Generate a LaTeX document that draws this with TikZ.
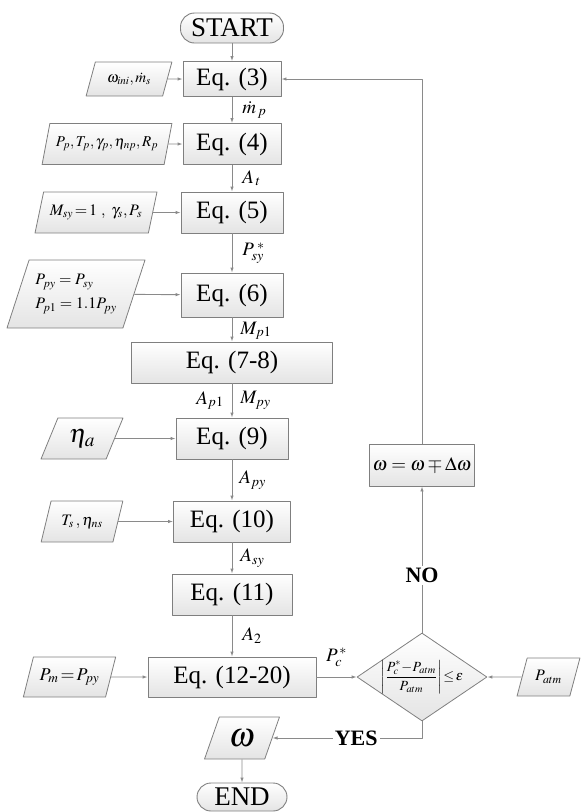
\documentclass[tikz,border=0pt]{standalone}
\usepackage{amsmath}
\usepackage{mathptmx}
\usepackage{fontspec}
\setmainfont{Liberation Serif}
\usetikzlibrary{arrows.meta,shapes.geometric}
\definecolor{linec}{HTML}{7F7F7F}
\definecolor{arrc}{HTML}{8A8A8A}
\definecolor{fillc}{HTML}{E4E4E4}
\tikzset{
  every picture/.style={line join=round, >={Latex[length=5pt,width=3.5pt]}},
  eqbox/.style={draw=linec, line width=0.9pt, top color=white, bottom color=fillc, inner sep=0pt, font=\fontsize{25}{28}\selectfont},
  termbox/.style={eqbox, rounded corners=14pt, font=\fontsize{27}{30}\selectfont},
  inbox/.style={trapezium, trapezium left angle=64, trapezium right angle=116, trapezium stretches=true,
    draw=linec, line width=0.8pt, top color=white, bottom color=fillc, inner sep=0pt, font=\fontsize{16}{24}\selectfont},
  testbox/.style={diamond, draw=linec, line width=0.8pt, top color=white, bottom color=fillc, inner sep=0pt},
  flow/.style={->, draw=arrc, line width=0.9pt},
  lab/.style={font=\fontsize{19}{22}\selectfont, inner sep=1pt},
  word/.style={font=\fontsize{22}{24}\selectfont\bfseries, fill=white, inner sep=2pt},
}

\begin{document}
\begin{tikzpicture}[x=1pt,y=-1pt]
\useasboundingbox (0,0) rectangle (581,812);
% main column
\node[termbox, minimum width=103pt, minimum height=30pt] (start) at (232,28) {START};
\node[eqbox, minimum width=98pt, minimum height=35pt] (eq3) at (232,79) {Eq. (3)};
\node[eqbox, minimum width=98pt, minimum height=41pt] (eq4) at (232,144) {Eq. (4)};
\node[eqbox, minimum width=102pt, minimum height=41pt] (eq5) at (232,212.5) {Eq. (5)};
\node[eqbox, minimum width=102pt, minimum height=44pt] (eq6) at (232,295) {Eq. (6)};
\node[eqbox, minimum width=201pt, minimum height=41pt] (eq78) at (232,362.5) {Eq. (7-8)};
\node[eqbox, minimum width=112pt, minimum height=41pt] (eq9) at (232,438.5) {Eq. (9)};
\node[eqbox, minimum width=117pt, minimum height=41pt] (eq10) at (232,521.5) {Eq. (10)};
\node[eqbox, minimum width=120pt, minimum height=41pt] (eq11) at (232,594.5) {Eq. (11)};
\node[eqbox, minimum width=168pt, minimum height=40pt] (eq1220) at (232,677) {Eq. (12-20)};
\node[testbox, minimum width=130pt, minimum height=88pt,
  label={center:\fontsize{14}{16}\selectfont$\left|\dfrac{P_c^*\!-\!P_{atm}}{P_{atm}}\right|\!\le\!\varepsilon$}] (check) at (422,677) {};
\node[eqbox, minimum width=105pt, minimum height=42pt, font=\fontsize{19}{22}\selectfont] (upd) at (422,465) {$\omega=\omega\mp\Delta\omega$};
\node[inbox, minimum width=75pt, minimum height=42pt, font=\fontsize{34}{36}\selectfont] (out) at (242,738) {$\omega$};
\node[termbox, minimum width=90pt, minimum height=28pt] (end) at (242,797) {END};

% inputs
\node[inbox, minimum width=86pt, minimum height=34pt, font=\fontsize{15}{18}\selectfont] (in3) at (129,79) {$\omega_{ini},\dot m_s$};
\node[inbox, minimum width=130pt, minimum height=41pt, font=\fontsize{15}{18}\selectfont] (in4) at (107,144) {$P_p,T_p,\gamma_p,\eta_{np},R_p$};
\node[inbox, minimum width=122pt, minimum height=41pt] (in5) at (96,212.5) {$M_{sy}\!=\!1\ ,\ \gamma_s,P_s$};
\node[inbox, minimum width=138pt, minimum height=68pt, align=left] (in6) at (76,294) {$P_{py}=P_{sy}$\\$P_{p1}=1.1P_{py}$};
\node[inbox, minimum width=82pt, minimum height=41pt, font=\fontsize{26}{28}\selectfont] (in9) at (82,438.5) {$\eta_a$};
\node[inbox, minimum width=82pt, minimum height=41pt] (in10) at (82,521.5) {$T_s\,,\eta_{ns}$};
\node[inbox, minimum width=93pt, minimum height=40pt, font=\fontsize{18}{22}\selectfont] (in1220) at (69.5,677) {$P_m\!=\!P_{py}$};
\node[inbox, minimum width=63pt, minimum height=38pt] (patm) at (548.5,677) {$P_{atm}$};

% connectors
\draw[flow] (start) -- (eq3);
\draw[flow] (eq3) -- node[lab, right=9pt] (lmp) {$\dot m_{\,p}$} (eq4);
\draw[flow] (eq4) -- node[lab, right=9pt] (lat) {$A_{\,t}$} (eq5);
\draw[flow] (eq5) -- node[lab, right=9pt] (lps) {$P_{sy}^{\;*}$} (eq6);
\draw[flow] (eq6) -- node[lab, right=7pt, pos=0.55] (lmp1) {$M_{p1}$} (eq78);
\draw[flow] (eq78) -- node[lab, left=7pt] (lap1) {$A_{p1}$} node[lab, right=7pt] (lmpy) {$M_{py}$} (eq9);
\draw[flow] (eq9) -- node[lab, right=6pt] (lapy) {$A_{py}$} (eq10);
\draw[flow] (eq10) -- node[lab, right=7pt] (lasy) {$A_{sy}$} (eq11);
\draw[flow] (eq11) -- node[lab, right=9pt] (la2) {$A_2$} (eq1220);
\draw[flow] (eq1220) -- node[lab, above=9pt] (lpc) {$P_c^{\,*}$} (check);
\foreach \i/\e in {in3/eq3,in4/eq4,in5/eq5,in6/eq6,in9/eq9,in10/eq10,in1220/eq1220,patm/check}
  \draw[flow] (\i) -- (\e);
\draw[flow] (check.north) -- node[word, pos=0.39] (lno) {NO} (upd.south);
\draw[flow] (upd.north) |- (eq3.east);
\draw[flow] (check.south) |- node[word, pos=0.72] (lyes) {YES} (out.east);
\draw[flow] (out) -- (end);
\end{tikzpicture}
\end{document}
